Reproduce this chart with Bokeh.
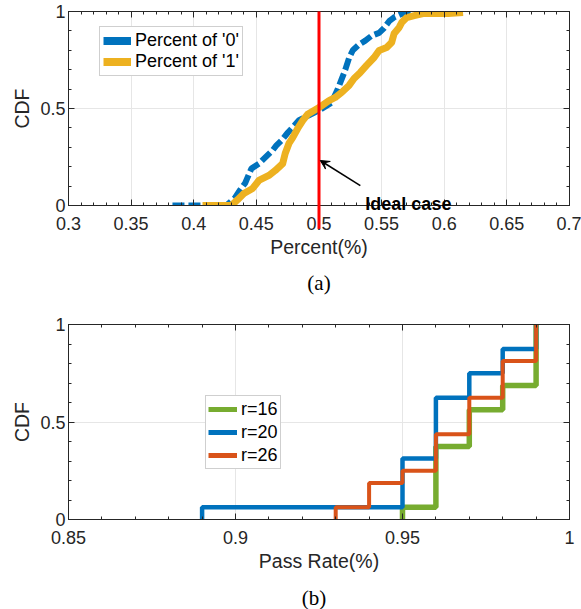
import json
from bokeh.plotting import figure
from bokeh.models import (Range1d, FixedTicker, LinearAxis, Legend, LegendItem,
                          Arrow, VeeHead, CustomJSTickFormatter)
from bokeh.core.properties import value
from bokeh.layouts import column
from bokeh.embed import file_html
from bokeh.resources import INLINE

# ---------------- data: panel (a) ----------------
p0_x = [0.383, 0.426, 0.433, 0.437, 0.441, 0.446, 0.452, 0.459, 0.463, 0.466, 0.470,
        0.475, 0.480, 0.484, 0.492, 0.500, 0.510, 0.515, 0.518, 0.521, 0.524, 0.527,
        0.532, 0.537, 0.542, 0.548, 0.552, 0.556, 0.560, 0.565, 0.571, 0.580, 0.590]
p0_y = [0.0, 0.0, 0.04, 0.08, 0.115, 0.19, 0.215, 0.26, 0.285, 0.31, 0.335,
        0.375, 0.41, 0.44, 0.465, 0.49, 0.53, 0.60, 0.65, 0.70, 0.76, 0.80,
        0.83, 0.85, 0.875, 0.89, 0.915, 0.95, 0.97, 0.985, 0.995, 1.0, 1.0]

p1_x = [0.407, 0.430, 0.435, 0.440, 0.447, 0.452, 0.460, 0.465, 0.471, 0.473, 0.476,
        0.479, 0.483, 0.487, 0.491, 0.496, 0.500, 0.508, 0.513, 0.518, 0.524, 0.528,
        0.533, 0.538, 0.544, 0.548, 0.554, 0.558, 0.560, 0.564, 0.566, 0.570, 0.576,
        0.584, 0.603, 0.615]
p1_y = [0.0, 0.0, 0.03, 0.062, 0.088, 0.129, 0.155, 0.18, 0.216, 0.268, 0.32,
        0.35, 0.397, 0.438, 0.47, 0.49, 0.505, 0.541, 0.557, 0.582, 0.619, 0.655,
        0.686, 0.722, 0.763, 0.799, 0.814, 0.84, 0.887, 0.918, 0.943, 0.969, 0.979,
        0.99, 0.99, 0.995]

ideal_x = [0.5, 0.5]
ideal_y = [-0.12, 1.0]
ideal_text = ["Ideal case"]
ideal_text_x = [0.537]
ideal_text_y = [0.01]
ideal_arrow = (0.533, 0.103, 0.501, 0.232)

a_xticks = [0.3, 0.35, 0.4, 0.45, 0.5, 0.55, 0.6, 0.65, 0.7]
a_xlabels = ["0.3", "0.35", "0.4", "0.45", "0.5", "0.55", "0.6", "0.65", "0.7"]
a_xminor = [round(0.3 + 0.01 * i, 2) for i in range(41)]
a_caption = ["(a)"]
a_caption_x = [0.5]
a_caption_y = [-0.402]

# ---------------- data: panel (b) ----------------
r16_x = [0.95, 0.95, 0.96, 0.97, 0.98, 0.99]
r16_y = [0.0, 0.0625, 0.375, 0.5625, 0.6875, 1.0]
r20_x = [0.89, 0.89, 0.95, 0.96, 0.97, 0.98, 0.99]
r20_y = [0.0, 0.0625, 0.3125, 0.625, 0.75, 0.875, 1.0]
r26_x = [0.93, 0.93, 0.94, 0.95, 0.96, 0.97, 0.98, 0.99]
r26_y = [0.0, 0.0625, 0.1875, 0.25, 0.4375, 0.625, 0.8125, 1.0]

b_xticks = [0.85, 0.9, 0.95, 1.0]
b_xlabels = ["0.85", "0.9", "0.95", "1"]
b_xminor = [round(0.85 + 0.01 * i, 2) for i in range(16)]
b_caption = ["(b)"]
b_caption_x = [0.9235]
b_caption_y = [-0.402]

cdf_ticks = [0.0, 0.5, 1.0]
cdf_labels = ["0", "0.5", "1"]
cdf_minor = [round(0.1 * i, 1) for i in range(11)]

# ---------------- style ----------------
FONT = "Liberation Sans"
SERIF = "Liberation Serif"
AX = "#262626"
BLUE = "#0072BD"
YELLOW = "#EDB120"
ORANGE = "#D95319"
GREEN = "#77AC30"
RED = "#FF0000"
NAN = [float("nan")]
W = 581


def fmt(ticks, labels):
    m = {f"{t:.3f}": l for t, l in zip(ticks, labels)}
    return CustomJSTickFormatter(
        code="const m = %s; const k = tick.toFixed(3); return (k in m) ? m[k] : '';" % json.dumps(m))


def tick_only_axis(positions, length):
    ax = LinearAxis(ticker=FixedTicker(ticks=[], minor_ticks=positions),
                    major_label_standoff=0, axis_label=None)
    ax.minor_tick_in = length
    ax.minor_tick_out = 0
    ax.major_tick_in = 0
    ax.major_tick_out = 0
    ax.axis_line_color = AX
    ax.minor_tick_line_color = AX
    return ax


def make_fig(height, top, bottom, left, xr, xticks, xlabels, xminor, xlabel):
    right = W - left - 504
    p = figure(width=W, height=height, x_range=Range1d(*xr), y_range=Range1d(0, 1),
               output_backend="svg", toolbar_location=None,
               min_border_left=left, min_border_right=right,
               min_border_top=top, min_border_bottom=bottom)
    p.outline_line_color = AX
    p.outline_line_width = 1
    p.background_fill_color = "white"
    p.border_fill_color = "white"
    xax = p.below[0]
    yax = p.left[0]
    xax.ticker = FixedTicker(ticks=xticks, minor_ticks=xminor)
    yax.ticker = FixedTicker(ticks=cdf_ticks, minor_ticks=cdf_minor)
    p.xgrid.ticker = FixedTicker(ticks=xticks)
    p.ygrid.ticker = FixedTicker(ticks=cdf_ticks)
    p.grid.grid_line_color = "#e6e6e6"
    p.grid.grid_line_width = 1
    xax.formatter = fmt(xticks, xlabels)
    yax.formatter = fmt(cdf_ticks, cdf_labels)
    for ax in (xax, yax):
        ax.major_tick_in = 6
        ax.major_tick_out = 0
        ax.minor_tick_in = 3
        ax.minor_tick_out = 0
        ax.axis_line_color = AX
        ax.major_tick_line_color = AX
        ax.minor_tick_line_color = AX
        ax.major_label_text_font = FONT
        ax.major_label_text_font_size = "18px"
        ax.major_label_text_color = AX
        ax.axis_label_text_font = FONT
        ax.axis_label_text_font_size = "19.5px"
        ax.axis_label_text_font_style = "normal"
        ax.axis_label_text_color = AX
    xax.axis_label = xlabel
    xax.major_label_standoff = 11
    xax.axis_label_standoff = 3
    yax.axis_label = "CDF"
    yax.major_label_standoff = 3
    yax.axis_label_standoff = 4
    # box ticks on top and right (no labels)
    p.add_layout(tick_only_axis(xticks, 6), "above")
    p.add_layout(tick_only_axis(xminor, 3), "above")
    p.add_layout(tick_only_axis(cdf_ticks, 6), "right")
    p.add_layout(tick_only_axis(cdf_minor, 3), "right")
    return p


def style_legend(leg, gw, lh, sp, pad):
    leg.label_text_font = FONT
    leg.label_text_font_size = "18px"
    leg.label_text_color = "black"
    leg.glyph_width = gw
    leg.glyph_height = lh
    leg.label_height = lh
    leg.spacing = sp
    leg.padding = pad
    leg.margin = 0
    leg.label_standoff = 4
    leg.border_line_color = "#a0a0a0"
    leg.border_line_width = 1
    leg.background_fill_color = "white"
    leg.background_fill_alpha = 1.0


# ---------------- panel (a) ----------------
pa = make_fig(312, 11, 107, 65, (0.3, 0.7), a_xticks, a_xlabels, a_xminor, "Percent(%)")
pa.line(p0_x, p0_y, line_color=BLUE, line_width=6, line_dash="12 4")
pa.line(p1_x, p1_y, line_color=YELLOW, line_width=7, line_join="round")
pa.line(ideal_x, ideal_y, line_color=RED, line_width=3, level="overlay")
pa.add_layout(Arrow(end=VeeHead(size=9, fill_color="black", line_color="black", line_width=1),
                    x_start=ideal_arrow[0], y_start=ideal_arrow[1],
                    x_end=ideal_arrow[2], y_end=ideal_arrow[3],
                    line_color="black", line_width=1.5, level="overlay"))
pa.text(x=ideal_text_x, y=ideal_text_y, text=ideal_text,
        text_font=value(FONT), text_font_size="18px", text_font_style="bold",
        text_color="black", text_baseline="alphabetic", text_align="left", level="overlay")
pa.text(x=a_caption_x, y=a_caption_y, text=a_caption,
        text_font=value(SERIF), text_font_size="21px",
        text_color="black", text_baseline="middle", text_align="center", level="overlay")
la0 = pa.line(NAN, NAN, line_color=BLUE, line_width=8)
la1 = pa.line(NAN, NAN, line_color=YELLOW, line_width=8)
leg_a = Legend(items=[LegendItem(label="Percent of '0'", renderers=[la0]),
                      LegendItem(label="Percent of '1'", renderers=[la1])],
               location=(31, 129))
style_legend(leg_a, 28, 21, 0, 3)
pa.add_layout(leg_a)

# ---------------- panel (b) ----------------
pb = make_fig(297, 12, 90, 68, (0.85, 1.0), b_xticks, b_xlabels, b_xminor, "Pass Rate(%)")
pb.step(r16_x, r16_y, mode="after", line_color=GREEN, line_width=5.5)
pb.step(r20_x, r20_y, mode="after", line_color=BLUE, line_width=4.5)
pb.step(r26_x, r26_y, mode="after", line_color=ORANGE, line_width=4)
pb.text(x=b_caption_x, y=b_caption_y, text=b_caption,
        text_font=value(SERIF), text_font_size="21px",
        text_color="black", text_baseline="middle", text_align="center", level="overlay")
lb16 = pb.line(NAN, NAN, line_color=GREEN, line_width=5)
lb20 = pb.line(NAN, NAN, line_color=BLUE, line_width=5)
lb26 = pb.line(NAN, NAN, line_color=ORANGE, line_width=5)
leg_b = Legend(items=[LegendItem(label="r=16", renderers=[lb16]),
                      LegendItem(label="r=20", renderers=[lb20]),
                      LegendItem(label="r=26", renderers=[lb26])],
               location=(137, 50))
style_legend(leg_b, 29, 22, 1, 2)
pb.add_layout(leg_b)

layout = column(pa, pb)
open("out.html", "w").write(file_html(layout, INLINE))
